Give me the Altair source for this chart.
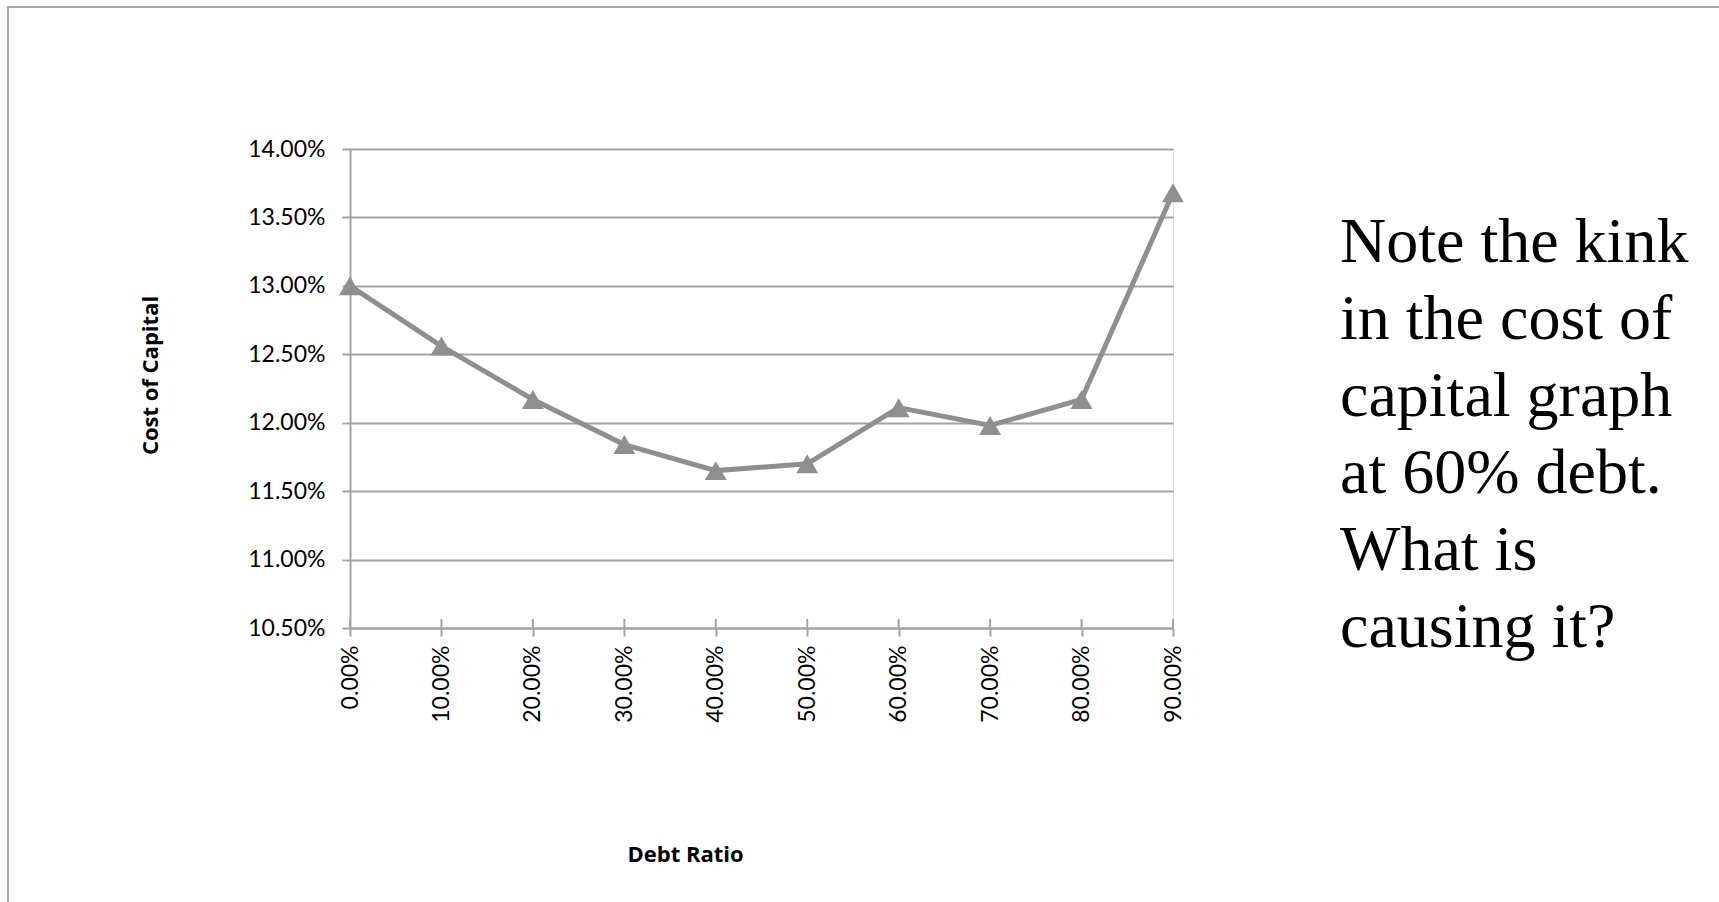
import altair as alt
import pandas as pd

# ---- data ----
debt_ratio = [0.0, 0.1, 0.2, 0.3, 0.4, 0.5, 0.6, 0.7, 0.8, 0.9]
cost_of_capital = [0.1300, 0.1256, 0.1217, 0.1184, 0.1165, 0.1170, 0.1211, 0.1198, 0.1217, 0.1368]
y_ticks = [0.105, 0.110, 0.115, 0.120, 0.125, 0.130, 0.135, 0.140]
x_ticks = debt_ratio
note_lines = ["Note the kink", "in the cost of", "capital graph", "at 60% debt.", "What is", "causing it?"]
x_title = "Debt Ratio"
y_title = "Cost of Capital"

df = pd.DataFrame({"debt": debt_ratio, "coc": cost_of_capital})

W, H = 823, 479
PAD_L, PAD_T = 350, 149
PAD_R, PAD_B = 1719 - PAD_L - W, 902 - PAD_T - H

GRID = "#a3a3a3"
LINE = "#8f8f8f"
LABEL_FONT = "Lato"

x_enc = alt.X(
    "debt:Q",
    scale=alt.Scale(domain=[0, 0.9], nice=False, zero=False),
    axis=alt.Axis(
        values=x_ticks, format=".2%", labelAngle=270, labelFont=LABEL_FONT,
        labelFontSize=23, labelColor="#000000", labelPadding=9,
        tickSize=8, tickColor=GRID, tickWidth=2, domainColor=GRID, domainWidth=2,
        grid=False, title=x_title, titleFont="Open Sans", titleFontSize=22,
        titleFontWeight="bold", titleColor="#000000", titleX=335, titleY=226,
        titleAlign="center", titleBaseline="middle",
    ),
)
y_enc = alt.Y(
    "coc:Q",
    scale=alt.Scale(domain=[0.105, 0.14], nice=False, zero=False),
    axis=alt.Axis(
        values=y_ticks, format=".2%", labelFont=LABEL_FONT, labelFontSize=23,
        labelColor="#000000", labelPadding=17, tickSize=8, tickColor=GRID,
        tickWidth=2, domainColor=GRID, domainWidth=2, grid=True,
        gridColor=GRID, gridWidth=2, title=y_title, titleFont="Open Sans",
        titleFontSize=22, titleFontWeight="bold", titleColor="#000000",
        titleX=-200, titleY=226, titleAngle=270, titleAlign="center",
        titleBaseline="middle",
    ),
)

base = alt.Chart(df)
line = base.mark_line(color=LINE, strokeWidth=5).encode(x=x_enc, y=y_enc)
points = base.mark_point(
    shape="triangle-up", filled=True, color=LINE, opacity=1, size=480
).encode(x="debt:Q", y="coc:Q")

# upward half of the crossing x-axis ticks
tick_up = base.mark_rule(color=GRID, strokeWidth=2).encode(
    x="debt:Q", y=alt.value(H - 9), y2=alt.value(H)
)

frame = alt.Chart(alt.Data(values=[{}])).mark_rect(
    fill=None, stroke="#a8a8a8", strokeWidth=2
).encode(
    x=alt.value(8 - PAD_L), x2=alt.value(1719 - PAD_L + 20),
    y=alt.value(7 - PAD_T), y2=alt.value(902 - PAD_T + 20),
)

note = alt.Chart(alt.Data(values=[{}])).mark_text(
    text=note_lines, font="Liberation Serif", fontSize=64, lineHeight=77,
    align="left", baseline="alphabetic", color="#000000",
).encode(x=alt.value(1340 - PAD_L), y=alt.value(262 - PAD_T))

chart = alt.layer(frame, line, tick_up, points, note).properties(
    width=W, height=H,
    autosize=alt.AutoSizeParams(type="none"),
    padding={"left": PAD_L, "top": PAD_T, "right": PAD_R, "bottom": PAD_B},
).configure_view(stroke=None).configure(background="white")

chart.save("out.html", embed_options={"renderer": "svg", "actions": False})
